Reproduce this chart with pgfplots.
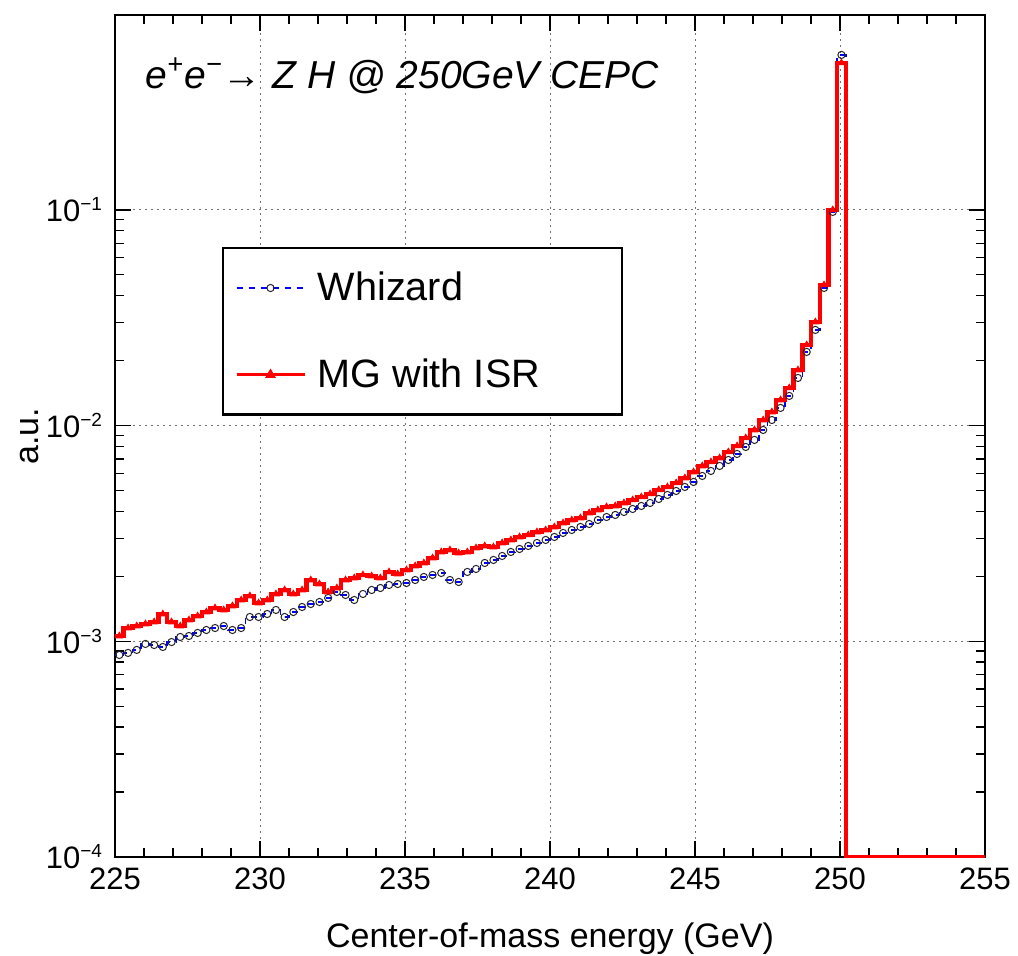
\documentclass[border=0pt]{standalone}
\usepackage{fontspec}
\setmainfont{Liberation Sans}
\usepackage{pgfplots}
\usepackage{pgfplotstable}
\pgfplotsset{compat=1.18}
\newcommand\ex[1]{\raisebox{5.5pt}{\fontsize{9.5}{10}\selectfont #1}}

% bin centres (0.3 GeV bins), Whizard and MG+ISR
\pgfplotstableread{
x      whiz      mg
224.85 8.64e-4   1.058e-3
225.15 8.64e-4   1.058e-3
225.45 8.83e-4   1.152e-3
225.75 9.12e-4   1.177e-3
226.05 9.72e-4   1.203e-3
226.35 9.61e-4   1.229e-3
226.65 9.41e-4   1.338e-3
226.95 9.92e-4   1.229e-3
227.25 1.047e-3  1.177e-3
227.55 1.058e-3  1.255e-3
227.85 1.093e-3  1.310e-3
228.15 1.128e-3  1.367e-3
228.45 1.152e-3  1.427e-3
228.75 1.177e-3  1.397e-3
229.05 1.128e-3  1.458e-3
229.35 1.152e-3  1.554e-3
229.65 1.296e-3  1.622e-3
229.95 1.296e-3  1.505e-3
230.25 1.338e-3  1.554e-3
230.55 1.397e-3  1.657e-3
230.85 1.296e-3  1.729e-3
231.15 1.367e-3  1.657e-3
231.45 1.442e-3  1.729e-3
231.75 1.489e-3  1.924e-3
232.05 1.521e-3  1.843e-3
232.35 1.588e-3  1.693e-3
232.65 1.693e-3  1.766e-3
232.95 1.639e-3  1.924e-3
233.25 1.554e-3  1.966e-3
233.55 1.657e-3  2.030e-3
233.85 1.729e-3  2.008e-3
234.15 1.766e-3  1.966e-3
234.45 1.824e-3  2.096e-3
234.75 1.843e-3  2.051e-3
235.05 1.863e-3  2.141e-3
235.35 1.924e-3  2.234e-3
235.65 1.987e-3  2.307e-3
235.95 2.030e-3  2.433e-3
236.25 2.073e-3  2.594e-3
236.55 1.924e-3  2.650e-3
236.85 1.883e-3  2.567e-3
237.15 2.096e-3  2.594e-3
237.45 2.164e-3  2.707e-3
237.75 2.307e-3  2.766e-3
238.05 2.382e-3  2.736e-3
238.35 2.486e-3  2.856e-3
238.65 2.594e-3  2.949e-3
238.95 2.679e-3  3.045e-3
239.25 2.766e-3  3.111e-3
239.55 2.856e-3  3.212e-3
239.85 2.949e-3  3.281e-3
240.15 3.045e-3  3.388e-3
240.45 3.178e-3  3.535e-3
240.75 3.281e-3  3.650e-3
241.05 3.388e-3  3.729e-3
241.35 3.498e-3  3.934e-3
241.65 3.650e-3  4.062e-3
241.95 3.769e-3  4.195e-3
242.25 3.851e-3  4.239e-3
242.55 3.976e-3  4.377e-3
242.85 4.105e-3  4.520e-3
243.15 4.239e-3  4.667e-3
243.45 4.377e-3  4.819e-3
243.75 4.568e-3  5.029e-3
244.05 4.767e-3  5.193e-3
244.35 4.975e-3  5.420e-3
244.65 5.193e-3  5.715e-3
244.95 5.477e-3  6.094e-3
245.25 5.840e-3  6.497e-3
245.55 6.159e-3  6.781e-3
245.85 6.497e-3  7.077e-3
246.15 6.925e-3  7.545e-3
246.45 7.386e-3  8.044e-3
246.75 7.959e-3  8.762e-3
247.05 8.579e-3  9.541e-3
247.35 9.541e-3  1.061e-2
247.65 1.061e-2  1.156e-2
247.95 1.207e-2  1.314e-2
248.25 1.372e-2  1.494e-2
248.55 1.662e-2  1.810e-2
248.85 2.194e-2  2.364e-2
249.15 2.775e-2  3.021e-2
249.45 4.345e-2  4.486e-2
249.75 9.78e-2   9.99e-2
250.05 0.5225    0.4797
}\zhdata

% empty bins above the peak
\pgfplotstableread{
x      whiz      mg
250.05 0.5225    0.4797
250.35 1e-4      1e-4
255.00 1e-4      1e-4
}\zhtail

\begin{document}
\begin{tikzpicture}
\begin{axis}[scale only axis, width=435pt, height=421pt,
             xmin=225, xmax=255, ymode=log, ymin=1e-4, ymax=0.8,
             xtick={225,230,...,255}, minor x tick num=4,
             ytick={1e-4,1e-3,1e-2,1e-1},
             yticklabels={10\ex{−4},10\ex{−3},10\ex{−2},10\ex{−1}},
             grid=major, major grid style={black!55, line width=0.5pt, dash pattern=on 1pt off 2pt},
             tick align=inside, major tick length=8pt, minor tick length=4.5pt,
             every tick/.style={black, line width=0.7pt},
             axis line style={line width=1pt},
             /pgf/number format/assume math mode=true,
             /pgf/number format/set thousands separator={},
             xticklabel style={font=\fontsize{15.5}{18}\selectfont, yshift=-2pt},
             yticklabel style={font=\fontsize{15.5}{18}\selectfont, xshift=-3pt},
             xlabel={Center-of-mass energy (GeV)},
             xlabel style={at={(axis description cs:0.5,-0.108)}, anchor=base, font=\fontsize{17}{20}\selectfont},
             ylabel={a.u.},
             ylabel style={at={(axis description cs:-0.0885,0.5)}, anchor=base, rotate=0, font=\fontsize{17}{20}\selectfont},
             legend cell align=left,
             legend image code/.code={\draw[mark repeat=2,mark phase=2,#1] plot coordinates {(0pt,0pt) (17pt,0pt) (34pt,0pt)};},
             legend style={at={(0.123,0.7245)}, anchor=north west, draw=black, line width=1.2pt, fill=white,
                           font=\fontsize{19.8}{23}\selectfont, inner xsep=6pt, inner ysep=10pt, row sep=23.5pt}]
\addplot[const plot mark mid, draw=blue, line width=0.8pt, dashed, mark=o, mark size=1.8pt,
         mark options={solid, draw=black!85, line width=0.5pt}] table[x=x, y=whiz] {\zhdata};
\addlegendentry{\hspace*{4pt}Whizard}
\addplot[const plot mark mid, draw=red, line width=2.2pt, mark=triangle*, mark size=1.8pt,
         mark options={solid, red, line width=0.5pt},
         legend image post style={line width=1.3pt, mark size=2.6pt}] table[x=x, y=mg] {\zhdata};
\addlegendentry{\hspace*{4pt}MG with ISR\hspace*{33pt}}
\addplot[forget plot, const plot mark mid, draw=blue, line width=0.8pt, dashed] table[x=x, y=whiz] {\zhtail};
\addplot[forget plot, const plot mark mid, draw=red, line width=2.2pt] table[x=x, y=mg] {\zhtail};
\node[anchor=base west, font=\fontsize{19.5}{23}\selectfont\itshape] at (rel axis cs:0.027,0.913)
     {e\textsuperscript{+}e\textsuperscript{−}→ Z H @ 250GeV CEPC};
\end{axis}
\pgfresetboundingbox
\path (-57.5pt,-49.5pt) rectangle (451.5pt,428.5pt);
\end{tikzpicture}
\end{document}
